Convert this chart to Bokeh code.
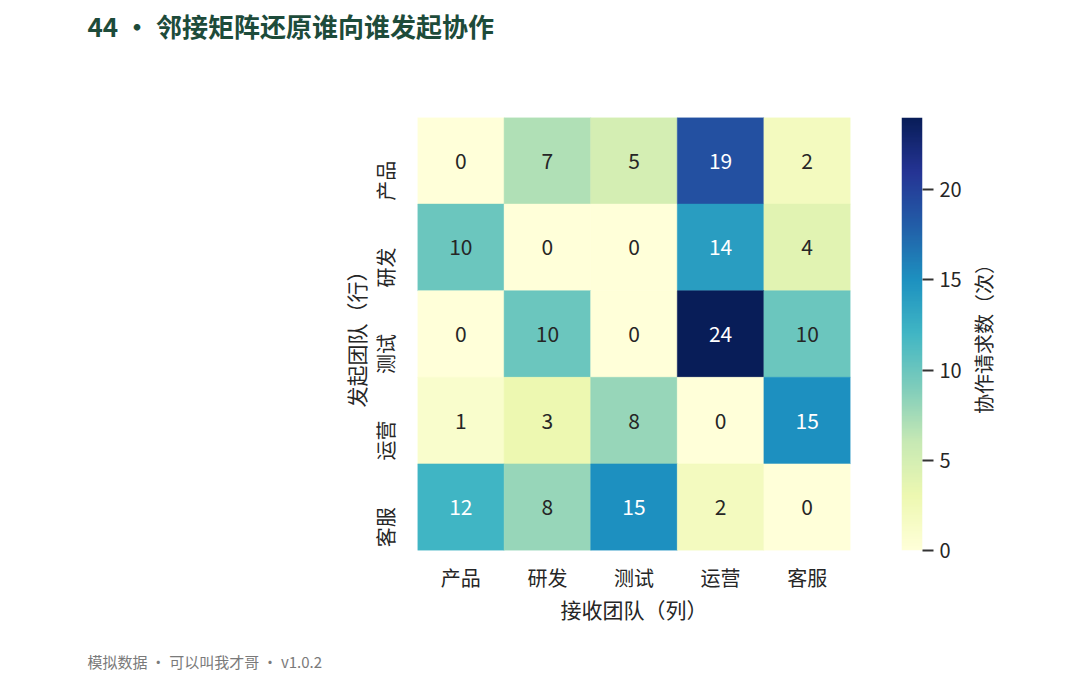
import math
import numpy as np
from bokeh.plotting import figure
from bokeh.layouts import row, column
from bokeh.models import (ColumnDataSource, LinearColorMapper, Title,
                          FixedTicker, Range1d)
from bokeh.transform import transform
from bokeh.embed import file_html
from bokeh.resources import INLINE
from bokeh.core.properties import value

# ---- data ----
senders = ["产品", "研发", "测试", "运营", "客服"]      # rows (发起团队)
receivers = ["产品", "研发", "测试", "运营", "客服"]    # columns (接收团队)
from_product = [0, 7, 5, 19, 2]
from_rnd = [10, 0, 0, 14, 4]
from_test = [0, 10, 0, 24, 10]
from_ops = [1, 3, 8, 0, 15]
from_service = [12, 8, 15, 2, 0]
cbar_ticks = [0, 5, 10, 15, 20]

title_text = "44 • 邻接矩阵还原谁向谁发起协作"
footer_text = "模拟数据 · 可以叫我才哥 · v1.0.2"
x_label = "接收团队（列）"
y_label = "发起团队（行）"
cbar_label = "协作请求数（次）"

FONT = "Noto Sans CJK SC"
INK = "#262626"

# YlGnBu anchor colours (matplotlib), interpolated to 256
anchors = ["#ffffd9", "#edf8b1", "#c7e9b4", "#7fcdbb", "#41b6c4",
           "#1d91c0", "#225ea8", "#253494", "#081d58"]


def hex2rgb(h):
    return tuple(int(h[i:i + 2], 16) for i in (1, 3, 5))


def build_palette(n=256):
    rgbs = [hex2rgb(c) for c in anchors]
    out = []
    for i in range(n):
        t = i / (n - 1) * (len(rgbs) - 1)
        k = min(int(t), len(rgbs) - 2)
        f = t - k
        c = [round(rgbs[k][j] + (rgbs[k + 1][j] - rgbs[k][j]) * f) for j in range(3)]
        out.append("#%02x%02x%02x" % tuple(c))
    return out


palette = build_palette()

rows = [from_product, from_rnd, from_test, from_ops, from_service]
xs, ys, vals, labels, tcolors = [], [], [], [], []
for s, r_vals in zip(senders, rows):
    for r, v in zip(receivers, r_vals):
        xs.append(r)
        ys.append(s)
        vals.append(v)
        labels.append(str(v))
        tcolors.append("#ffffff" if v >= 12 else INK)

src = ColumnDataSource(dict(x=xs, y=ys, v=vals, label=labels, tc=tcolors))

vmax = max(max(r) for r in rows)
mapper = LinearColorMapper(palette=palette, low=0, high=vmax)


def blank(fig):
    fig.outline_line_color = None
    fig.grid.grid_line_color = None
    fig.border_fill_color = "white"
    fig.background_fill_color = "white"
    return fig


# ---------------- title strip ----------------
title_fig = blank(figure(
    width=1080, height=52, output_backend="svg", toolbar_location=None,
    x_axis_location=None, y_axis_location=None,
    x_range=Range1d(0, 1), y_range=Range1d(0, 1),
    min_border_left=87, min_border_right=0, min_border_top=47, min_border_bottom=0,
))
title_fig.title = Title(text=title_text, align="left", offset=0, standoff=8,
                        vertical_align="bottom",
                        text_font=FONT, text_font_size="26px",
                        text_font_style="bold", text_color="#1d4b3a")

# ---------------- main heatmap ----------------
p = blank(figure(
    width=880, height=581,
    x_range=receivers, y_range=list(reversed(senders)),
    output_backend="svg", toolbar_location=None,
    min_border_left=417, min_border_right=30,
    min_border_top=65, min_border_bottom=83,
))

p.rect(x="x", y="y", width=1, height=1, source=src,
       fill_color=transform("v", mapper), line_color=transform("v", mapper),
       line_width=0.5)
p.text(x="x", y="y", text="label", source=src, text_color="tc",
       text_align="center", text_baseline="middle",
       text_font=value(FONT), text_font_size="21px")

for ax in (p.xaxis[0], p.yaxis[0]):
    ax.axis_line_color = None
    ax.major_tick_line_color = None
    ax.minor_tick_line_color = None
    ax.major_tick_out = 0
    ax.major_tick_in = 0
    ax.major_label_text_font = FONT
    ax.major_label_text_font_size = "20px"
    ax.major_label_text_color = INK
    ax.axis_label_text_font = FONT
    ax.axis_label_text_font_size = "21px"
    ax.axis_label_text_font_style = "normal"
    ax.axis_label_text_color = INK

p.xaxis.axis_label = x_label
p.xaxis.major_label_standoff = 12
p.xaxis.axis_label_standoff = -1
p.yaxis.axis_label = y_label
p.yaxis.major_label_orientation = math.pi / 2
p.yaxis.major_label_standoff = 32
p.yaxis.axis_label_standoff = -17

# ---------------- colour bar ----------------
cb = blank(figure(
    width=85, height=581, x_range=(0, 1), y_range=(0, vmax),
    output_backend="svg", toolbar_location=None,
    x_axis_location=None, y_axis_location="right",
    min_border_left=21, min_border_right=43,
    min_border_top=65, min_border_bottom=83,
))
grad = np.linspace(0, vmax, 512).reshape(-1, 1)
cb.image(image=[grad], x=0, y=0, dw=1, dh=vmax, color_mapper=mapper)

yax = cb.yaxis[0]
yax.ticker = FixedTicker(ticks=cbar_ticks)
yax.axis_line_color = None
yax.major_tick_line_color = "#333333"
yax.major_tick_line_width = 2
yax.major_tick_out = 11
yax.major_tick_in = 0
yax.minor_tick_line_color = None
yax.major_label_standoff = 6
yax.major_label_text_font = FONT
yax.major_label_text_font_size = "20px"
yax.major_label_text_color = INK

# ---------------- colour-bar caption ----------------
lbl = blank(figure(
    width=115, height=581, x_range=(0, 1), y_range=(0, vmax),
    output_backend="svg", toolbar_location=None,
    x_axis_location=None, y_axis_location="left",
    min_border_left=35, min_border_right=0,
    min_border_top=65, min_border_bottom=83,
))
lax = lbl.yaxis[0]
lax.ticker = FixedTicker(ticks=[])
lax.axis_line_color = None
lax.major_tick_line_color = None
lax.minor_tick_line_color = None
lax.major_tick_out = 0
lax.major_tick_in = 0
lax.major_label_standoff = 0
lax.axis_label = cbar_label
lax.axis_label_text_font = FONT
lax.axis_label_text_font_size = "20px"
lax.axis_label_text_font_style = "normal"
lax.axis_label_text_color = INK
lax.axis_label_standoff = 4

# ---------------- footer strip ----------------
footer_fig = blank(figure(
    width=1080, height=42, output_backend="svg", toolbar_location=None,
    x_axis_location=None, y_axis_location=None,
    x_range=Range1d(0, 1), y_range=Range1d(0, 1),
    min_border_left=87, min_border_right=0, min_border_top=40, min_border_bottom=0,
))
footer_fig.title = Title(text=footer_text, align="left", offset=0, standoff=4,
                         vertical_align="bottom",
                         text_font=FONT, text_font_size="15px",
                         text_font_style="normal", text_color="#7a7a7a")

layout = column(title_fig, row(p, cb, lbl, spacing=0), footer_fig, spacing=0)
open("out.html", "w").write(file_html(layout, INLINE))
